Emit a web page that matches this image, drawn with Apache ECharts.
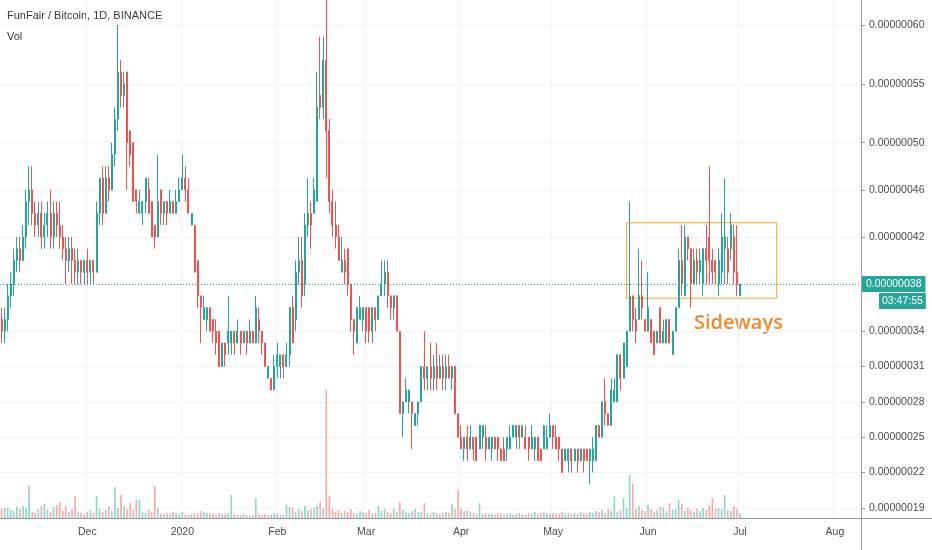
<!DOCTYPE html>
<html><head><meta charset="utf-8">
<script src="https://cdn.jsdelivr.net/npm/echarts@6/dist/echarts.min.js"></script>
<style>html,body{margin:0;padding:0;background:#fff}#c{width:932px;height:550px}</style>
</head><body><div id="c"></div>
<script>
// ---- data (prices in satoshi, 1 sat = 0.00000001 BTC) ----
const titleText = 'FunFair / Bitcoin, 1D, BINANCE';
const volLabel = 'Vol';
const firstDay = [2019, 10, 3];   // 2019-11-03
const lastAxisDay = [2020, 7, 9]; // 2020-08-09 (empty space to the right)
// [open, close, low, high]
const ohlc = [
[35,34,33,36],[34,35,33,36],[35,37,34,38],[37,38,36,39],[38,40,37,41],[40,41,39,42],[41,40,39,42],[40,42,40,43],[42,45,41,46],[45,46,43,48],
[46,44,43,48],[44,43,42,45],[43,44,42,45],[44,42,41,45],[42,43,41,44],[43,44,42,45],[44,42,41,46],[42,44,41,45],[44,43,42,45],[43,42,41,45],
[42,41,40,43],[41,40,38,42],[40,41,39,42],[41,40,38,42],[40,39,38,41],[39,40,38,41],[40,39,38,40],[39,40,38,40],[40,39,38,41],[39,40,38,40],
[40,39,38,40],[39,44,39,45],[44,47,43,47],[47,44,43,48],[44,47,44,48],[47,46,45,48],[46,49,46,50],[49,52,48,53],[52,56,51,60],[56,54,53,57],
[54,55,53,56],[56,50,46,56],[51,49,48,51],[50,45,45,50],[46,45,44,46],[44,45,44,46],[44,45,43,45],[45,47,44,47],[46,44,44,47],[45,42,42,45],
[43,42,41,43],[42,45,42,49],[46,44,43,46],[44,45,43,45],[45,44,43,45],[44,45,44,46],[45,44,44,45],[44,45,44,46],[45,46,45,47],[46,47,46,49],
[47,46,45,48],[46,44,44,47],[43,44,43,44],[43,39,39,43],[40,37,36,40],[37,36,33,37],[35,36,35,37],[35,36,34,36],[36,34,34,36],[35,34,33,35],
[34,33,32,35],[34,31,31,34],[31,33,31,33],[33,32,31,33],[33,34,32,37],[33,34,32,34],[34,33,32,34],[33,34,33,35],[34,33,32,34],[33,34,33,34],
[34,33,32,34],[33,34,33,35],[34,33,33,34],[33,36,33,37],[35,34,33,36],[34,33,32,34],[33,31,31,33],[30,31,30,31],[30,29,29,30],[29,31,29,32],
[31,32,30,33],[31,32,30,32],[32,31,30,32],[31,32,31,33],[32,36,31,36],[36,33,33,37],[35,39,34,40],[39,40,38,42],[40,37,36,42],[38,43,37,44],
[43,44,42,47],[44,43,41,45],[44,46,44,47],[45,53,45,56],[54,53,52,59],[53,57,52,59],[57,51,47,63],[51,45,44,52],[45,43,42,46],[43,42,41,45],
[42,40,40,43],[39,40,39,42],[40,39,38,41],[41,38,37,41],[38,35,34,38],[35,34,32,35],[33,36,33,36],[35,36,35,37],[35,36,34,36],[36,34,33,36],
[36,34,33,36],[34,36,33,36],[36,35,34,36],[35,37,35,37],[37,38,37,40],[38,39,37,40],[39,37,36,40],[37,36,35,37],[36,37,35,37],[37,34,34,37],
[34,27,27,34],[27,28,25,28],[28,29,28,30],[28,29,27,29],[28,27,24,28],[26,27,26,27],[27,28,26,28],[28,31,28,31],[31,30,29,34],[30,31,29,31],
[31,30,29,33],[30,31,29,32],[31,30,29,33],[30,31,30,32],[31,30,29,32],[30,31,29,32],[31,30,30,32],[30,31,29,31],[31,27,27,31],[27,25,25,27],
[25,24,24,26],[24,25,23,25],[25,24,23,26],[24,25,24,26],[25,24,23,25],[25,23,23,25],[24,26,24,26],[25,26,24,26],[25,24,23,26],[24,25,24,25],
[24,25,23,25],[25,24,24,25],[25,24,23,25],[24,23,23,24],[24,23,23,25],[24,25,23,25],[24,25,24,26],[25,26,25,26],[25,26,24,26],[26,25,24,26],
[25,26,25,26],[25,24,24,26],[25,24,23,25],[24,25,24,26],[24,25,23,25],[25,23,23,25],[24,23,23,24],[24,26,24,26],[24,25,24,26],[25,26,25,27],
[26,25,24,26],[25,24,24,26],[25,24,23,25],[24,22,22,24],[23,24,23,24],[23,24,22,24],[24,23,22,24],[23,24,23,24],[24,23,22,24],[23,24,23,24],
[24,23,22,24],[24,23,23,24],[23,24,21,24],[23,24,22,25],[23,26,23,26],[26,25,25,26],[25,28,25,28],[28,27,26,30],[27,26,26,27],[26,29,26,30],
[28,29,28,30],[28,32,28,32],[32,30,29,32],[30,33,30,33],[31,34,31,34],[34,37,34,45],[37,35,34,37],[35,34,33,36],[35,37,35,41],[37,36,35,40],
[35,34,34,35],[34,36,34,39],[35,33,33,35],[34,32,32,34],[33,34,33,34],[36,33,33,36],[33,34,33,35],[33,35,33,35],[35,33,33,35],[32,34,32,34],
[34,36,34,36],[36,40,36,41],[40,38,37,43],[37,42,37,43],[42,41,40,42],[41,38,36,41],[38,40,38,41],[40,39,38,41],[39,40,38,41],[38,41,37,41],
[41,40,38,43],[42,40,38,48],[40,39,38,41],[40,39,38,40],[38,40,37,41],[39,42,38,44],[41,42,38,47],[41,39,38,42],[41,43,40,44],[42,39,38,43],
[39,38,37,43],[37,38,37,38]
];
const volume = [
9,10,10,8,7,11,9,12,10,32,
6,5,9,12,14,8,6,11,13,16,
7,12,6,9,22,6,5,4,6,8,
5,22,9,6,8,12,7,31,10,23,
12,9,15,8,18,18,6,5,8,6,
32,10,4,4,5,4,6,5,4,6,
3,3,4,5,4,7,6,5,5,4,
3,5,4,4,5,23,4,3,3,4,
3,2,3,20,4,3,4,3,3,5,
4,3,3,13,11,10,6,9,7,12,
8,9,10,12,16,10,128,22,9,6,
8,5,7,6,9,5,4,7,6,5,
8,4,5,12,7,9,6,5,9,6,
16,8,6,5,7,9,6,6,15,5,
4,6,5,4,5,6,5,14,9,28,
9,7,8,6,5,4,15,4,5,4,
4,3,5,4,3,4,5,3,4,5,
4,3,5,4,6,4,5,6,5,4,
5,4,4,6,4,5,4,5,4,6,
5,4,6,5,7,6,8,5,9,7,
22,6,8,20,10,43,34,9,12,8,
7,13,9,6,8,11,10,7,15,8,
9,18,14,7,10,8,6,9,7,10,
8,13,20,9,10,9,23,8,7,12,
9,5
];
const priceTicks = [19,22,25,28,31,34,42,46,50,55,60];
const monthNames = ['Jan','Feb','Mar','Apr','May','Jun','Jul','Aug','Sep','Oct','Nov','Dec'];
const countdownText = '03:47:55';
const noteText = 'Sideways';
const boxFrom = '2020-05-25', boxTo = '2020-07-13', boxHigh = 43.2, boxLow = 36.8;

// ---- derived ----
const dates = [];
for (let t = Date.UTC(...firstDay); t <= Date.UTC(...lastAxisDay); t += 86400000) {
  dates.push(new Date(t).toISOString().slice(0, 10));
}
const lastClose = ohlc[ohlc.length - 1][1];
const isMonthStart = (i, v) => v.slice(8) === '01';
const fmtMonth = v => { const m = +v.slice(5, 7); return m === 1 ? v.slice(0, 4) : monthNames[m - 1]; };
const fmtPrice = v => (v / 1e8).toFixed(8);
const UP = '#26a69a', DOWN = '#ef5350';
const FONT = "'Liberation Sans', Arial, sans-serif";

const chart = echarts.init(document.getElementById('c'));
chart.setOption({
  animation: false,
  backgroundColor: '#fff',
  grid: [
    { left: 0, right: 71, top: 0, bottom: 32 },
    { left: 0, right: 71, top: 390, bottom: 32 }
  ],
  xAxis: [
    { type: 'category', data: dates, gridIndex: 0, boundaryGap: true,
      axisLine: { lineStyle: { color: '#9598a1' } },
      axisTick: { interval: isMonthStart, alignWithLabel: true, length: 4, lineStyle: { color: '#9598a1' } },
      axisLabel: { interval: isMonthStart, formatter: fmtMonth, color: '#4a4a4a', fontSize: 10.5, fontFamily: FONT, margin: 9 },
      splitLine: { show: true, interval: isMonthStart, lineStyle: { color: '#f0f3fa' } } },
    { type: 'category', data: dates, gridIndex: 1, boundaryGap: true, show: false }
  ],
  yAxis: [
    { type: 'value', gridIndex: 0, position: 'right', min: 18.14, max: 62.11,
      axisLine: { show: true, lineStyle: { color: '#9598a1' } },
      axisTick: { show: true, customValues: priceTicks, length: 4, lineStyle: { color: '#9598a1' } },
      axisLabel: { customValues: priceTicks, formatter: fmtPrice, color: '#4a4a4a', fontSize: 10.5, fontFamily: FONT, margin: 8 },
      splitLine: { show: true, lineStyle: { color: '#f0f3fa' } } },
    { type: 'value', gridIndex: 1, min: 0, max: 128, show: false, splitLine: { show: false } }
  ],
  series: [
    { type: 'bar', xAxisIndex: 1, yAxisIndex: 1, silent: true, barWidth: 1.6, z: 1,
      data: volume.map((v, i) => ({ value: v, itemStyle: { color: ohlc[i][1] >= ohlc[i][0] ? 'rgba(38,166,154,0.5)' : 'rgba(239,83,80,0.5)' } })) },
    { type: 'candlestick', xAxisIndex: 0, yAxisIndex: 0, data: ohlc, barWidth: 1.5, z: 3, clip: true,
      itemStyle: { color: UP, color0: DOWN, borderColor: UP, borderColor0: DOWN, borderWidth: 1 },
      markLine: { silent: true, symbol: 'none', animation: false,
        data: [{ yAxis: lastClose }],
        lineStyle: { color: UP, type: [1, 2], width: 1 },
        label: { position: 'end', distance: 1, formatter: () => fmtPrice(lastClose), color: '#fff', backgroundColor: UP,
                 padding: [3, 4, 2, 4], fontSize: 10.5, fontFamily: FONT } },
      markArea: { silent: true,
        itemStyle: { color: 'rgba(0,0,0,0)', borderColor: '#f5a623', borderWidth: 1 },
        data: [[{ xAxis: boxFrom, yAxis: boxHigh }, { xAxis: boxTo, yAxis: boxLow }]] } }
  ],
  graphic: [
    { type: 'text', left: 7, top: 10, style: { text: titleText, fill: '#3a3a3a', font: "11px 'Liberation Sans', Arial, sans-serif" } },
    { type: 'text', left: 7, top: 31, style: { text: volLabel, fill: '#3a3a3a', font: "11px 'Liberation Sans', Arial, sans-serif" } },
    { type: 'text', left: 879, top: 293, style: { text: countdownText, fill: '#fff', backgroundColor: UP, padding: [3, 3, 2, 3],
        font: "10.5px 'Liberation Sans', Arial, sans-serif" } },
    { type: 'text', left: 694, top: 313, style: { text: noteText, fill: '#f0882a', font: "600 20px 'Open Sans', sans-serif" } },
    { type: 'line', shape: { x1: 861, y1: 518.5, x2: 932, y2: 518.5 }, style: { stroke: '#9598a1', lineWidth: 1 } },
    { type: 'line', shape: { x1: 861.5, y1: 518, x2: 861.5, y2: 550 }, style: { stroke: '#9598a1', lineWidth: 1 } }
  ]
});
</script></body></html>
